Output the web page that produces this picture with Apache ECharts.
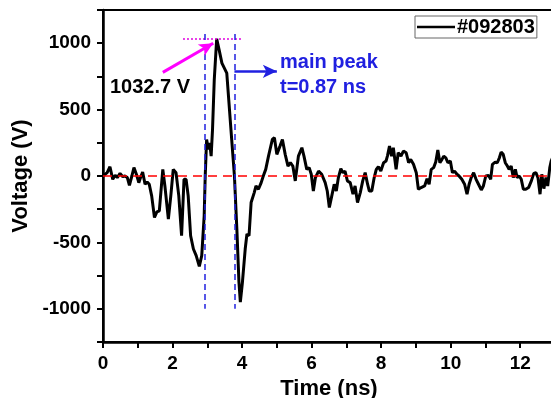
<!DOCTYPE html>
<html>
<head>
<meta charset="utf-8">
<script src="https://cdn.jsdelivr.net/npm/echarts@6/dist/echarts.min.js"></script>
<style>
  html, body { margin: 0; padding: 0; background: #fff; }
  #wrap { width: 551px; height: 398px; overflow: hidden; position: relative; }
  #chart { width: 557px; height: 398px; position: absolute; left: 0; top: 0; }
</style>
</head>
<body>
<div id="wrap"><div id="chart"></div></div>
<script>
// waveform: time (ns) and voltage (V)
const times = [
  0, 0.03, 0.12, 0.20, 0.28, 0.35, 0.41, 0.49, 0.57, 0.63, 0.70, 0.76, 0.83, 0.89, 0.97,
  1.03, 1.08, 1.14, 1.21, 1.27, 1.33, 1.40, 1.48, 1.55, 1.62, 1.66, 1.72, 1.78, 1.88, 1.95,
  2.02, 2.10, 2.18, 2.26, 2.33, 2.39, 2.45, 2.52, 2.60, 2.68, 2.77, 2.84, 2.91, 2.94, 2.98,
  3.03, 3.07, 3.11, 3.15, 3.20, 3.27, 3.34, 3.42, 3.56, 3.68, 3.78, 3.85, 3.91, 3.95, 4.01,
  4.09, 4.14, 4.20, 4.26, 4.35, 4.40, 4.47, 4.55, 4.61, 4.68, 4.76, 4.87, 4.93, 5.00, 5.09,
  5.16, 5.24, 5.32, 5.39, 5.46, 5.53, 5.62, 5.72, 5.78, 5.86, 5.93, 5.99, 6.05, 6.11, 6.20,
  6.29, 6.39, 6.45, 6.51, 6.58, 6.65, 6.71, 6.77, 6.84, 6.90, 6.96, 7.03, 7.11, 7.19, 7.25,
  7.32, 7.40, 7.47, 7.54, 7.61, 7.66, 7.73, 7.80, 7.86, 7.92, 7.99, 8.07, 8.14, 8.18, 8.24,
  8.30, 8.35, 8.43, 8.49, 8.57, 8.64, 8.72, 8.79, 8.85, 8.93, 9.01, 9.07, 9.15, 9.25, 9.32,
  9.38, 9.44, 9.51, 9.57, 9.63, 9.69, 9.75, 9.80, 9.86, 9.92, 9.99, 10.05, 10.11, 10.18, 10.24,
  10.32, 10.40, 10.47, 10.53, 10.59, 10.66, 10.73, 10.80, 10.88, 10.94, 11.01, 11.09, 11.15, 11.20, 11.28,
  11.34, 11.40, 11.45, 11.51, 11.57, 11.63, 11.68, 11.74, 11.80, 11.86, 11.91, 11.97, 12.03, 12.09, 12.16,
  12.24, 12.32, 12.39, 12.45, 12.51, 12.57, 12.62, 12.68, 12.74, 12.79, 12.85, 12.89, 12.95
];
const volts = [
  0, 0, 25, 70, -25, 5, -12, 20, -5, 0, -12, -70, 0, 63, 5,
  -50, -12, 30, -62, -45, -62, -150, -312, -270, -262, -250, 50, -75, -325, -150,
  50, 25, -150, -450, -25, -25, -150, -450, -550, -600, -680, -600, -300, 0, 275,
  200, 250, 150, 350, 725, 1032.7, 950, 850, 775, 350, 0, -400, -800, -950, -800,
  -550, -437, -450, -200, -125, -75, -100, -50, 0, 50, 150, 275, 288, 163, 225,
  275, 163, 75, 100, 75, -37, 150, 213, 150, 50, 63, 13, -113, -12, 37,
  13, -50, -113, -237, -150, -62, -113, -12, 55, 25, 37, -37, -50, -137, -75,
  -200, -125, -37, 25, -62, -113, -113, -12, 50, 70, 37, 100, 113, 150, 225,
  150, 213, 50, 175, 150, 188, 175, 100, 125, 88, 25, -100, -87, -75, -20,
  -62, 50, 63, 105, 195, 100, 125, 150, 137, 100, 113, 25, 37, 13, 0,
  -25, -62, -137, -62, -12, 25, -25, -62, -105, -75, 0, 5, -25, 88, 105,
  100, 137, 180, 163, 100, 75, 50, 75, -12, 50, -12, 0, -25, -100, -100,
  -87, -37, 20, 25, -12, -137, 13, -95, -12, -75, 63, 113, 150
];

const seriesName = "#092803";
const peakVoltage = 1032.7;
const peakLabel = "1032.7 V";
const widthLabel = "main peak\nt=0.87 ns";
const peakStart = 2.94;
const peakEnd = 3.80;

const FONT = "Liberation Sans, Arial, sans-serif";
const BLUE = "#2020e0";

const chart = echarts.init(document.getElementById("chart"));

chart.setOption({
  animation: false,
  legend: {
    data: [{ name: seriesName, icon: "rect" }],
    left: 415,
    top: 16,
    padding: [1, 2, 1, 2],
    itemWidth: 38,
    itemHeight: 2.5,
    itemGap: 0,
    borderColor: "#666",
    borderWidth: 1,
    textStyle: { fontFamily: FONT, fontWeight: "bold", fontSize: 20, color: "#000", padding: [0, 0, 0, -3] },
  },
  grid: {
    left: 103,
    top: 10,
    right: 2,
    bottom: 56,
    outerBoundsMode: "none",
    containLabel: false,
    show: true,
    borderColor: "#000",
    borderWidth: 2,
  },
  xAxis: {
    type: "value",
    min: 0,
    max: 13,
    interval: 1,
    name: "Time (ns)",
    nameLocation: "middle",
    nameGap: 35,
    nameTextStyle: { fontFamily: FONT, fontWeight: "bold", fontSize: 22, color: "#000" },
    axisLine: { onZero: false, lineStyle: { color: "#000", width: 2.5 } },
    axisTick: { inside: false, length: 6, lineStyle: { color: "#000", width: 2 } },
    axisLabel: {
      margin: 12,
      fontFamily: FONT,
      fontWeight: "bold",
      fontSize: 19,
      color: "#000",
      formatter: (v) => (v % 2 === 0 ? String(v) : ""),
    },
    splitLine: { show: false },
  },
  yAxis: {
    type: "value",
    min: -1250,
    max: 1250,
    interval: 250,
    name: "Voltage (V)",
    nameLocation: "middle",
    nameGap: 65,
    nameTextStyle: { fontFamily: FONT, fontWeight: "bold", fontSize: 22, color: "#000" },
    axisLine: { onZero: false, lineStyle: { color: "#000", width: 2.5 } },
    axisTick: { inside: false, length: 6, lineStyle: { color: "#000", width: 2 } },
    axisLabel: {
      margin: 12,
      fontFamily: FONT,
      fontWeight: "bold",
      fontSize: 19,
      color: "#000",
      formatter: (v) => (v % 500 === 0 ? String(v) : ""),
    },
    splitLine: { show: false },
  },
  series: [
    {
      type: "line",
      name: seriesName,
      data: times.map((t, i) => [t, volts[i]]),
      symbol: "none",
      lineStyle: { color: "#000", width: 3 },
      itemStyle: { color: "#000" },
      z: 3,
      markLine: {
        silent: true,
        symbol: ["none", "none"],
        label: { show: false },
        animation: false,
        data: [
          // zero reference
          { yAxis: 0, lineStyle: { color: "#ff0000", type: [9, 6], width: 1.5 } },
          // peak level
          [
            { coord: [2.3, peakVoltage], lineStyle: { color: "#e000e0", type: [2, 2], width: 1.5 } },
            { coord: [4.0, peakVoltage] },
          ],
          // width markers
          [
            { coord: [peakStart, 1070], lineStyle: { color: BLUE, type: [6, 4], width: 1.5 } },
            { coord: [peakStart, -1000] },
          ],
          [
            { coord: [peakEnd, 1070], lineStyle: { color: BLUE, type: [6, 4], width: 1.5 } },
            { coord: [peakEnd, -1000] },
          ],
          // arrows
          [
            { coord: [1.72, 780], symbol: "none", lineStyle: { color: "#ff00ff", type: "solid", width: 3 } },
            { coord: [3.17, 1000], symbol: "arrow", symbolSize: [10, 14] },
          ],
          [
            { coord: [3.78, 788], symbol: "none", lineStyle: { color: BLUE, type: "solid", width: 2.5 } },
            { coord: [5.0, 788], symbol: "arrow", symbolSize: [10, 14] },
          ],
        ],
      },
      markPoint: {
        silent: true,
        symbol: "circle",
        symbolSize: 0,
        animation: false,
        data: [
          {
            coord: [0.2, 670],
            label: {
              show: true,
              position: "inside",
              align: "left",
              verticalAlign: "middle",
              formatter: peakLabel,
              fontFamily: FONT,
              fontWeight: "bold",
              fontSize: 20,
              color: "#000",
            },
          },
          {
            coord: [5.09, 760],
            label: {
              show: true,
              position: "inside",
              align: "left",
              verticalAlign: "middle",
              formatter: widthLabel,
              lineHeight: 25,
              fontFamily: FONT,
              fontWeight: "bold",
              fontSize: 20,
              color: BLUE,
            },
          },
        ],
      },
    },
  ],
});
</script>
</body>
</html>
